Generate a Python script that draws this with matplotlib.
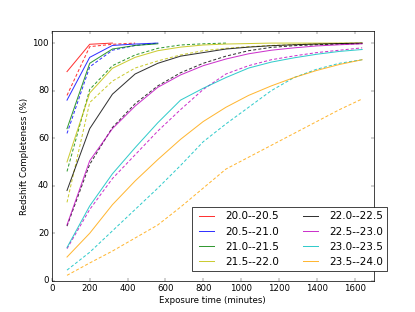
import matplotlib
matplotlib.use('Agg')
import matplotlib.pyplot as plt

plt.style.use('classic')

# exposure times (minutes)
exptime = [80, 200, 320, 440, 560, 680, 800, 920, 1040, 1160, 1280, 1400, 1520, 1640]

bins = ['20.0--20.5', '20.5--21.0', '21.0--21.5', '21.5--22.0',
        '22.0--22.5', '22.5--23.0', '23.0--23.5', '23.5--24.0']
colors = ['r', 'b', 'g', 'y', 'k', 'm', 'c', 'orange']

# completeness, solid curves
c_solid = [
    [88, 99.5, 100],
    [76, 94, 99, 99.6, 100],
    [64, 91.5, 97.5, 99, 99.7],
    [50, 79, 89.4, 94, 96.8, 98.3, 99.2, 99.6, 99.8, 100, 100, 100, 100, 100],
    [38, 64, 78.5, 87, 91.5, 94.5, 96, 97.5, 98.3, 98.9, 99.3, 99.6, 99.8, 100],
    [23.5, 50.5, 64, 73.5, 81.4, 86.6, 90.5, 93.3, 95.5, 97, 98, 98.8, 99.3, 99.7],
    [14, 31.5, 45, 56, 66.5, 76, 81, 85.5, 89.5, 92, 93.8, 95.3, 96.5, 97.3],
    [10, 20, 32, 42, 51, 59.5, 67, 73, 78, 82, 85.5, 88.5, 91, 93],
]

# completeness, dashed curves
c_dashed = [
    [78, 98.5, 99.5, 100],
    [62, 90, 97, 99, 100],
    [46, 80.5, 90.5, 95, 97.8, 99.2, 99.7, 100],
    [33, 75, 84, 89.5, 92.5, 95, 96.8, 97.8, 98.5, 99, 99.4, 99.7, 99.9, 100],
    [23, 49, 64.5, 74.5, 82, 87.5, 91.5, 94.5, 96.8, 98.2, 98.9, 99.3, 99.6, 99.8],
    [13.5, 30, 43, 53, 63, 72, 80.5, 87, 90.5, 93, 94.6, 96, 97, 98],
    [4.5, 12, 21, 30, 39, 48.5, 58.5, 66, 73, 80, 85.5, 89, 91.5, 93],
    [2.3, 7.5, 12.5, 18, 23.5, 31, 39, 47, 52, 57, 62, 67, 72, 76.5],
]

lw = 1.4
dash = (0, (6.0 / lw, 4.0 / lw))

fig = plt.figure(figsize=(415 / 52., 6), dpi=52, facecolor='w')
ax = fig.add_subplot(111)

for lab, col, ys, yd in zip(bins, colors, c_solid, c_dashed):
    ax.plot(exptime[:len(ys)], ys, '-', color=col, lw=lw, alpha=0.8, label=lab)
    ax.plot(exptime[:len(yd)], yd, color=col, lw=lw, ls=dash, alpha=0.8)

ax.set_xlim(0, 1700)
ax.set_ylim(0, 105)
ax.set_xlabel('Exposure time (minutes)')
ax.set_ylabel('Redshift Completeness (%)')

ax.legend(loc='lower right', ncol=2, bbox_to_anchor=(1.042, 0.039),
          borderaxespad=0)

fig.savefig('out.png', dpi=52, facecolor='w')
